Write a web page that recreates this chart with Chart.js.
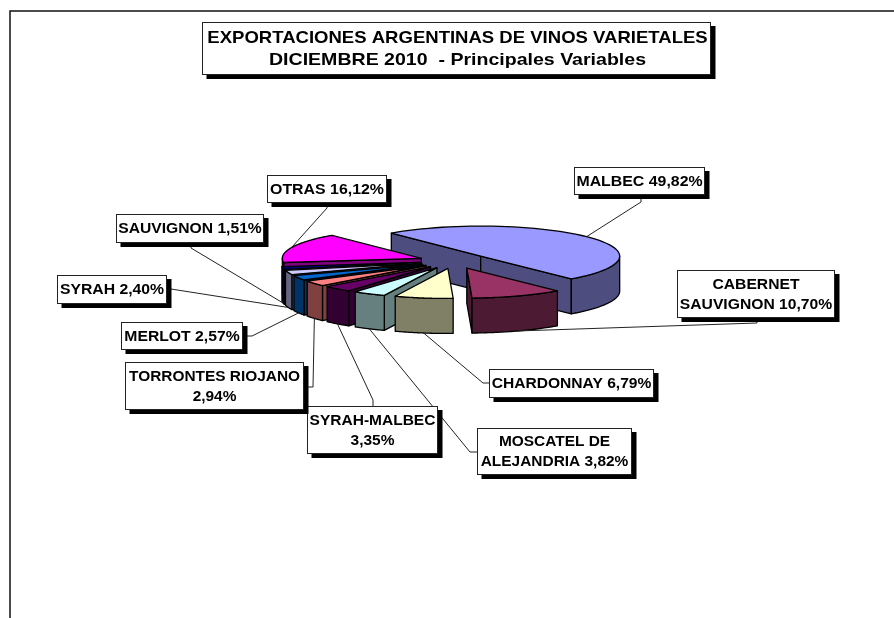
<!DOCTYPE html>
<html>
<head>
<meta charset="utf-8">
<title>Exportaciones argentinas de vinos varietales</title>
<script src="https://cdn.jsdelivr.net/npm/chart.js@4/dist/chart.umd.js"></script>
<style>
  html, body { margin: 0; padding: 0; background: #fff; }
  canvas { display: block; }
</style>
</head>
<body>
<canvas id="pieChart" width="894" height="618"></canvas>
<script>
// Exploded 3D-look pie: Chart.js lays out the arcs, the plugin below squashes them
// and adds the walls, the call-out boxes and the title box.

const titleLines = ['EXPORTACIONES ARGENTINAS DE VINOS VARIETALES', 'DICIEMBRE 2010  - Principales Variables'];

// \n marks where the call-out text wraps
const categories = ['MALBEC', 'CABERNET\nSAUVIGNON', 'CHARDONNAY', 'MOSCATEL DE\nALEJANDRIA', 'SYRAH-MALBEC\n',
    'TORRONTES RIOJANO\n', 'MERLOT', 'SYRAH', 'SAUVIGNON', 'OTRAS'];
const shares = [49.82, 10.70, 6.79, 3.82, 3.35, 2.94, 2.57, 2.40, 1.51, 16.12];

const topColors = ['#9999ff', '#993366', '#ffffcc', '#ccffff', '#660066', '#ff8080', '#0066cc', '#ccccff', '#000080', '#ff00ff'];
const wallColors = ['#4d4d80', '#4d1a33', '#808066', '#668080', '#330033', '#804040', '#003366', '#666680', '#000040', '#800080'];

// Pie look
const SQUASH = 0.216;
const DEPTH = 35;
const EXPLODE = 35;

// Call-out layout: box, then the little elbow the leader leaves from.
// rimDepth says whether the leader lands on the top rim (0) or the wall bottom.
// stretch widens the glyphs, the original text is a wide Arial.
const callouts = [
    { box: [574, 167, 131, 28], path: [[641, 195], [641, 202]], rimDepth: 0, stretch: 1.095 },
    { box: [677, 270, 158, 48], path: [[757, 318], [757, 323]], rimDepth: DEPTH, stretch: 1.08 },
    { box: [489, 369, 165, 29], path: [[489, 383], [483, 383]], rimDepth: DEPTH, stretch: 1.075 },
    { box: [477, 428, 155, 47], path: [[477, 452], [470, 452]], rimDepth: DEPTH, stretch: 1.065 },
    { box: [307, 406, 131, 48], path: [[373, 406], [373, 400]], rimDepth: DEPTH, stretch: 1.07 },
    { box: [125, 362, 179, 48], path: [[304, 387], [313, 387]], rimDepth: DEPTH, stretch: 1.063 },
    { box: [121, 322, 122, 28], path: [[243, 336], [252, 336]], rimDepth: DEPTH, stretch: 1.085 },
    { box: [57, 275, 110, 29], path: [[167, 289], [171, 289]], rimDepth: DEPTH, stretch: 1.087 },
    { box: [116, 214, 148, 29], path: [[191, 243], [191, 248]], rimDepth: DEPTH, stretch: 1.08 },
    { box: [267, 175, 120, 28], path: [[327, 203], [327, 208]], rimDepth: 0, stretch: 1.096 }
];

const fmtShare = v => v.toFixed(2).replace('.', ',') + '%';

function arcGeom(arc) {
    const p = arc.getProps(['x', 'y', 'startAngle', 'endAngle', 'outerRadius'], true);
    const mid = (p.startAngle + p.endAngle) / 2;
    const ax = p.x + Math.cos(mid) * EXPLODE;
    const ay = p.y + Math.sin(mid) * EXPLODE * SQUASH;
    return {
        ...p, mid, ax, ay,
        rim: (t, z = 0) => [ax + Math.cos(t) * p.outerRadius, ay + Math.sin(t) * p.outerRadius * SQUASH + z]
    };
}

function poly(ctx, pts, fill) {
    ctx.beginPath();
    pts.forEach((pt, i) => i ? ctx.lineTo(pt[0], pt[1]) : ctx.moveTo(pt[0], pt[1]));
    ctx.closePath();
    if (fill) { ctx.fillStyle = fill; ctx.fill(); }
    ctx.stroke();
}

function drawWalls(ctx, g, color) {
    const radial = a => {
        const r = g.rim(a), rd = g.rim(a, DEPTH);
        poly(ctx, [[g.ax, g.ay], r, rd, [g.ax, g.ay + DEPTH]], color);
    };
    if (Math.cos(g.startAngle) < 0) radial(g.startAngle);
    if (Math.cos(g.endAngle) > 0) radial(g.endAngle);
    const from = Math.max(g.startAngle, 0), to = Math.min(g.endAngle, Math.PI);
    if (to > from) {
        const upper = [], lower = [];
        for (let i = 0; i <= 40; i++) {
            const t = from + (to - from) * i / 40;
            upper.push(g.rim(t));
            lower.unshift(g.rim(t, DEPTH));
        }
        poly(ctx, upper.concat(lower), color);
    }
}

function drawTopOutline(ctx, g) {
    const pts = [[g.ax, g.ay]];
    for (let i = 0; i <= 60; i++) {
        pts.push(g.rim(g.startAngle + (g.endAngle - g.startAngle) * i / 60));
    }
    poly(ctx, pts);
}

function shadowBox(ctx, x, y, w, h) {
    ctx.fillStyle = '#000';
    ctx.fillRect(x + 4.5, y + 4, w, h);
    ctx.fillStyle = '#fff';
    ctx.fillRect(x, y, w, h);
    ctx.strokeStyle = '#222';
    ctx.lineWidth = 1;
    ctx.strokeRect(x + 0.5, y + 0.5, w - 1, h - 1);
}

function wideText(ctx, text, cx, cy, stretch) {
    ctx.save();
    ctx.translate(cx, cy);
    ctx.scale(stretch, 1);
    ctx.fillText(text, 0, 0);
    ctx.restore();
}

const pie3d = {
    id: 'pie3d',
    beforeDatasetDraw(chart, args) {
        const ctx = chart.ctx;
        const arcs = chart.getDatasetMeta(args.index).data;
        const order = arcs.map((a, i) => i).sort((i, j) => Math.sin(arcGeom(arcs[i]).mid) - Math.sin(arcGeom(arcs[j]).mid));
        ctx.save();
        ctx.strokeStyle = '#000';
        ctx.lineWidth = 1.3;
        ctx.lineJoin = 'round';
        order.forEach(i => {
            const g = arcGeom(arcs[i]);
            drawWalls(ctx, g, wallColors[i]);
            ctx.save();
            ctx.translate(g.ax, g.ay);
            ctx.scale(1, SQUASH);
            ctx.translate(-g.x, -g.y);
            arcs[i].draw(ctx);
            ctx.restore();
            drawTopOutline(ctx, g);
        });
        ctx.restore();
        return false;
    },
    afterDraw(chart) {
        const ctx = chart.ctx;
        const arcs = chart.getDatasetMeta(0).data;
        ctx.save();

        // outer frame, cut by the right and bottom of the picture
        ctx.strokeStyle = '#111';
        ctx.lineWidth = 1.5;
        ctx.beginPath();
        ctx.moveTo(10, 618);
        ctx.lineTo(10, 11);
        ctx.lineTo(894, 11);
        ctx.stroke();

        // leaders go first, the boxes sit on top of them
        ctx.strokeStyle = '#222';
        ctx.lineWidth = 1;
        callouts.forEach((c, i) => {
            const g = arcGeom(arcs[i]);
            const end = g.rim(g.mid, c.rimDepth);
            ctx.beginPath();
            ctx.moveTo(c.path[0][0], c.path[0][1]);
            ctx.lineTo(c.path[1][0], c.path[1][1]);
            ctx.lineTo(end[0], end[1]);
            ctx.stroke();
        });

        ctx.textAlign = 'center';
        ctx.textBaseline = 'middle';
        callouts.forEach((c, i) => {
            const [x, y, w, h] = c.box;
            shadowBox(ctx, x, y, w, h);
            const raw = categories[i];
            const text = raw.endsWith('\n') ? raw + fmtShare(shares[i]) : raw + ' ' + fmtShare(shares[i]);
            const lines = text.split('\n');
            ctx.fillStyle = '#000';
            ctx.font = 'bold 14.5px "Liberation Sans", Arial, sans-serif';
            lines.forEach((ln, k) => {
                wideText(ctx, ln, x + w / 2, y + h / 2 + 0.5 + (k - (lines.length - 1) / 2) * 20, c.stretch);
            });
        });

        shadowBox(ctx, 202, 22, 509, 53);
        ctx.fillStyle = '#000';
        ctx.font = 'bold 17px "Liberation Sans", Arial, sans-serif';
        wideText(ctx, titleLines[0], 457.5, 38.5, 1.09);
        wideText(ctx, titleLines[1], 457.5, 60, 1.15);
        ctx.restore();
    }
};

new Chart(document.getElementById('pieChart').getContext('2d'), {
    type: 'pie',
    data: {
        labels: categories,
        datasets: [{
            data: shares,
            backgroundColor: topColors,
            borderWidth: 0
        }]
    },
    options: {
        responsive: false,
        animation: false,
        events: [],
        rotation: -40,
        radius: 139,
        layout: { padding: { left: 14, bottom: 96 } },
        plugins: {
            legend: { display: false },
            title: { display: false },
            tooltip: { enabled: false }
        }
    },
    plugins: [pie3d]
});
</script>
</body>
</html>
